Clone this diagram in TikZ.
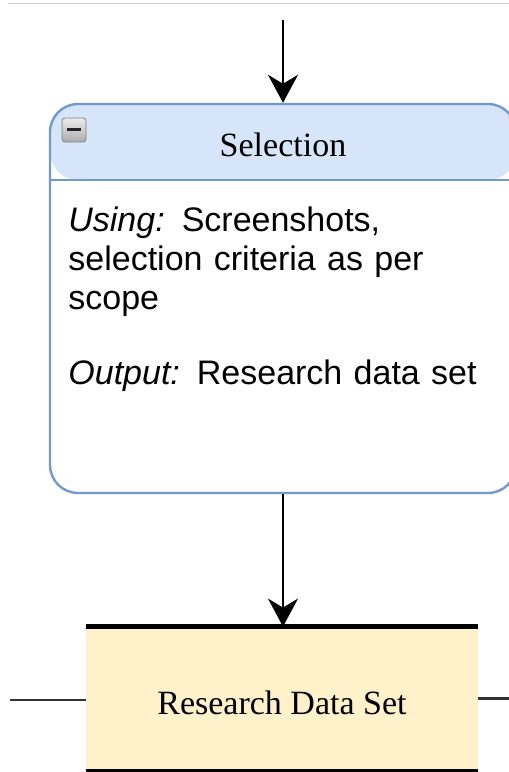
\documentclass[tikz,border=0pt]{standalone}
\usepackage{fontspec}
\setmainfont{Liberation Serif}
\setsansfont{Liberation Sans}
\usepackage{tikz}
\usetikzlibrary{positioning}
\usetikzlibrary{arrows.meta,calc}
\definecolor{headblue}{HTML}{D6E5FA}
\definecolor{lineblue}{HTML}{7398CF}
\definecolor{datayellow}{HTML}{FFF1CA}
\tikzstyle{stepbox}=[draw=lineblue,line width=1.2pt,rounded corners=14pt,fill=white,minimum width=233pt,minimum height=194.5pt,inner sep=0pt,
  path picture={\fill[headblue] (path picture bounding box.north west) rectangle ($(path picture bounding box.north east)+(0,-76)$);
                \draw[lineblue,line width=1pt] ($(path picture bounding box.north west)+(0,-76)$) -- ($(path picture bounding box.north east)+(0,-76)$);}]
\tikzstyle{minusicon}=[draw=gray,rounded corners=1.5pt,top color=gray!15,bottom color=gray!65,minimum size=12pt,inner sep=0pt,
  path picture={\draw[line width=1.5pt,black!85] ($(path picture bounding box.west)+(5,0)$) -- ($(path picture bounding box.east)+(-5,0)$);}]
\tikzstyle{databox}=[fill=datayellow,minimum width=196pt,minimum height=71.5pt,inner sep=0pt]
\tikzstyle{flow} = [draw,line width=1.2pt,-{Stealth[length=14pt,width=15pt,inset=4.5pt]}]
\tikzstyle{sideline} = [draw,line width=1.2pt,black!80]
\tikzstyle{title}=[font=\fontsize{17}{20}\selectfont,inner sep=0pt]
\tikzstyle{body}=[font=\sffamily\fontsize{17}{19.5}\selectfont,align=left,text width=215pt,inner sep=0pt]

\begin{document}
\begin{tikzpicture}[x=0.5pt,y=0.5pt]
    \useasboundingbox (0,0) rectangle (509,772);
    \draw[gray!40,line width=0.5pt] (8,768) -- (509,768);

    % selection step with its header
    \node[stepbox] (sel) at (283,473.5) {};
    \node[minusicon] (fold) at (74,642) {};
    \node[title,anchor=base] (seltitle) at (283,615) {Selection};
    \node[body,anchor=base west] (seltext) at (68,540)
        {{\itshape Using:} Screenshots,\\ selection criteria as per\\ scope\\[18pt] {\itshape Output:} Research data set};

    % data store
    \node[databox] (data) at (282,73.5) {};
    \node[title] (datatext) at (282,69) {Research Data Set};
    \draw[line width=2.5pt] (data.north west) -- (data.north east);
    \draw[line width=1.5pt] (data.south west) -- (data.south east);

    \coordinate (in) at (283,752);
    \coordinate (left) at (10,72);
    \coordinate (right) at (509,74);

    \path[flow] (in) -- (sel.north);
    \path[flow] (sel.south) -- (data.north -| sel.south);

    \foreach \source/\dest in {left/data.west, data.east/right}
        \path[sideline] (\source) -- (\dest |- \source);
\end{tikzpicture}
\end{document}
